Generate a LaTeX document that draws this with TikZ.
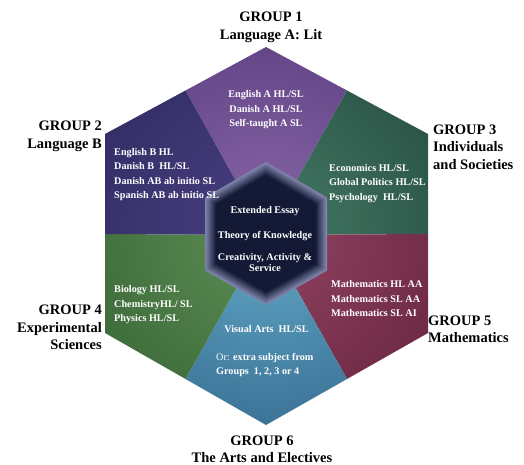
\documentclass[tikz,border=0pt]{standalone}
\usepackage{fontspec}
\setmainfont{Liberation Serif}

\definecolor{gAin}{HTML}{8A68A8}
\definecolor{gAout}{HTML}{42276A}
\definecolor{gBin}{HTML}{4A4082}
\definecolor{gBout}{HTML}{20204F}
\definecolor{gCin}{HTML}{467A66}
\definecolor{gCout}{HTML}{14362C}
\definecolor{gDin}{HTML}{5E8E54}
\definecolor{gDout}{HTML}{224F27}
\definecolor{gEin}{HTML}{924462}
\definecolor{gEout}{HTML}{4E132A}
\definecolor{gFin}{HTML}{62A8C8}
\definecolor{gFout}{HTML}{1A456A}
\definecolor{coredark}{HTML}{141A35}
\definecolor{coreedge}{HTML}{7E84AA}

\tikzset{
  grouphead/.style={font=\bfseries\fontsize{14.5}{17.5}\selectfont, inner sep=0pt, align=center},
  subjects/.style={font=\bfseries\fontsize{10.2}{14.5}\selectfont, text=white, inner sep=0pt, align=left},
}

\begin{document}
\begin{tikzpicture}[x=1pt,y=1pt]
    \useasboundingbox (0,0) rectangle (524,465);

    % outer hexagon: corners and edge midpoints
    \coordinate (O)   at (266,230);
    \coordinate (V1)  at (266,418);
    \coordinate (V2)  at (428,331);
    \coordinate (V3)  at (428,132);
    \coordinate (V4)  at (266,40);
    \coordinate (V5)  at (105,132);
    \coordinate (V6)  at (105,331);
    \coordinate (M12) at (347,374.5);
    \coordinate (M23) at (428,231);
    \coordinate (M34) at (347,86);
    \coordinate (M45) at (185.5,86);
    \coordinate (M56) at (105,231);
    \coordinate (M61) at (185.5,374.5);

    % the six group sectors
    \begin{scope}
        \clip (O) -- (M61) -- (V1) -- (M12) -- cycle;
        \shade[inner color=gAin, outer color=gAout] (O) circle (360pt);
    \end{scope}
    \begin{scope}
        \clip (O) -- (M12) -- (V2) -- (M23) -- cycle;
        \shade[inner color=gCin, outer color=gCout] (O) circle (360pt);
    \end{scope}
    \begin{scope}
        \clip (O) -- (M23) -- (V3) -- (M34) -- cycle;
        \shade[inner color=gEin, outer color=gEout] (O) circle (360pt);
    \end{scope}
    \begin{scope}
        \clip (O) -- (M34) -- (V4) -- (M45) -- cycle;
        \shade[inner color=gFin, outer color=gFout] (O) circle (360pt);
    \end{scope}
    \begin{scope}
        \clip (O) -- (M45) -- (V5) -- (M56) -- cycle;
        \shade[inner color=gDin, outer color=gDout] (O) circle (360pt);
    \end{scope}
    \begin{scope}
        \clip (O) -- (M56) -- (V6) -- (M61) -- cycle;
        \shade[inner color=gBin, outer color=gBout] (O) circle (360pt);
    \end{scope}

    % core hexagon, soft edge from nested fills
    \coordinate (C)  at (266,231);
    \foreach \k in {0,...,8}{
        \pgfmathsetmacro\hs{1-0.022*\k}
        \pgfmathsetmacro\hc{12.5*\k}
        \fill[coredark!\hc!coreedge, shift={(C)}, scale=\hs]
            (0,72) -- (61,36.5) -- (61,-36.5) -- (0,-71) -- (-61,-36.5) -- (-61,36.5) -- cycle;
    }

    % subjects
    \node[subjects, align=center, anchor=north] (G1list) at (266,374.5)
        {English A HL/SL\\Danish A HL/SL\\Self-taught A SL};
    \node[subjects, anchor=north west] (G2list) at (114,317)
        {English B HL\\Danish B~ HL/SL\\Danish AB ab initio SL\\Spanish AB ab initio SL};
    \node[subjects, anchor=north west] (G3list) at (329,301)
        {Economics HL/SL\\Global Politics HL/SL\\Psychology~ HL/SL};
    \node[subjects, anchor=north west] (G4list) at (114,179.5)
        {Biology HL/SL\\ChemistryHL/ SL\\Physics HL/SL};
    \node[subjects, anchor=north west] (G5list) at (331,184.5)
        {Mathematics HL AA\\Mathematics SL AA\\Mathematics SL AI};
    \node[subjects] (G6art) at (266.5,135.7) {Visual Arts~ HL/SL};
    \node[subjects, anchor=north west] (G6alt) at (216,112)
        {{\mdseries Or:} extra subject from\\Groups~ 1, 2, 3 or 4};

    % core
    \node[subjects] (EE) at (265,254.3) {Extended Essay};
    \node[subjects] (TOK) at (265,229.3) {Theory of Knowledge};
    \node[subjects, align=center, font=\bfseries\fontsize{10.2}{11.6}\selectfont] (CAS) at (265,202.5)
        {Creativity, Activity \&\\Service};

    % group headings
    \node[grouphead, anchor=north] (G1) at (271,453) {GROUP 1\\Language A: Lit};
    \node[grouphead, anchor=north east, align=right] (G2) at (102,344) {GROUP 2\\Language B};
    \node[grouphead, anchor=north west, align=left] (G3) at (433,340.5) {GROUP 3\\Individuals\\and Societies};
    \node[grouphead, anchor=north east, align=right] (G4) at (102,160) {GROUP 4\\Experimental\\Sciences};
    \node[grouphead, anchor=north west, align=left] (G5) at (428,149.5) {GROUP 5\\Mathematics};
    \node[grouphead, anchor=north, font=\bfseries\fontsize{14.5}{16.7}\selectfont] (G6) at (262,29.5) {GROUP 6\\The Arts and Electives};
\end{tikzpicture}
\end{document}
